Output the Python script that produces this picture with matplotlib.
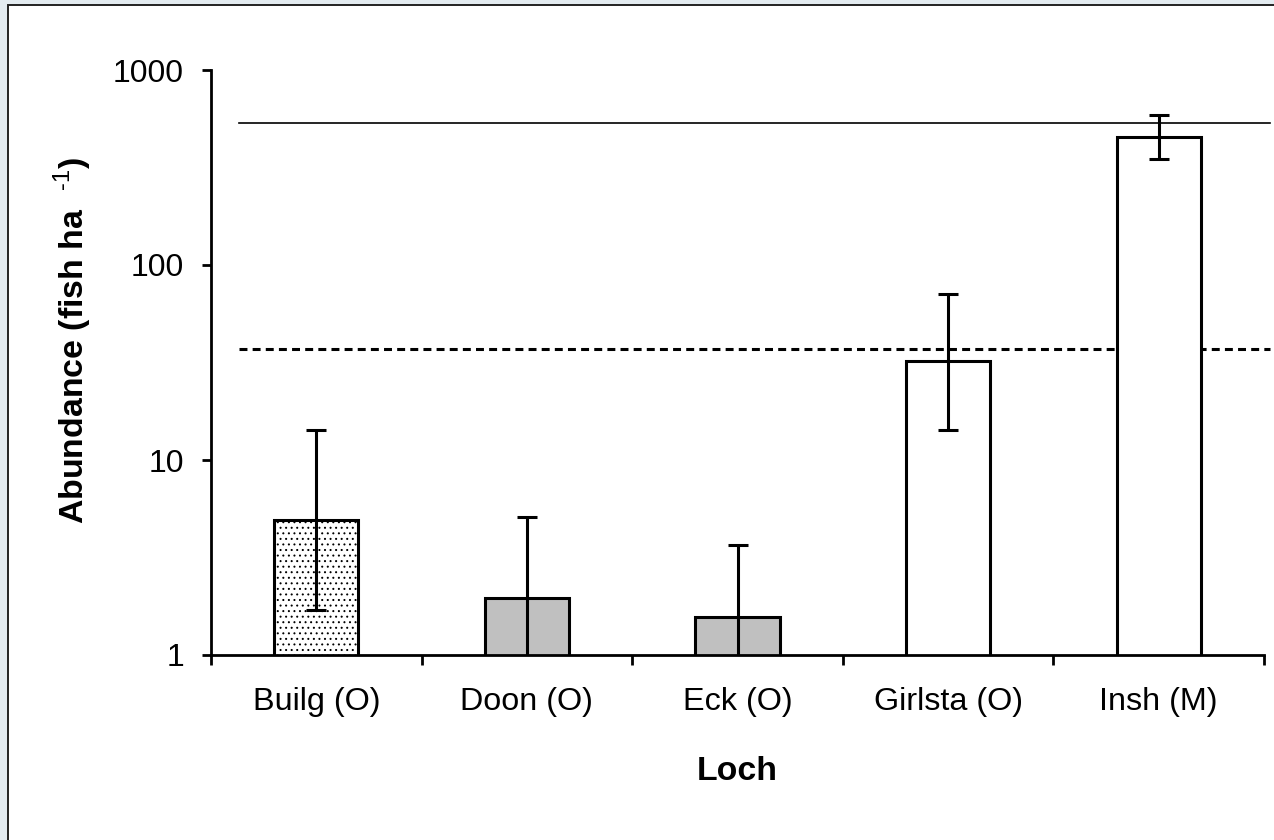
"""
Abbondanza di pesci per loch (scala logaritmica) con barre d'errore
e due linee di riferimento orizzontali.
"""

import matplotlib
matplotlib.use('Agg')
import matplotlib.pyplot as plt
from matplotlib.patches import Rectangle

# ==================== DATI ====================

lochs = ['Builg (O)', 'Doon (O)', 'Eck (O)', 'Girlsta (O)', 'Insh (M)']
abundance = [4.9, 1.97, 1.57, 32.0, 455.0]       # fish ha-1
err_low = [1.7, 0.5, 0.5, 14.2, 350.0]            # limite inferiore
err_high = [14.2, 5.1, 3.65, 71.0, 590.0]         # limite superiore
bar_colors = ['white', '#c0c0c0', '#c0c0c0', 'white', 'white']
bar_hatch = ['...', None, None, None, None]

ref_solid = 535.0    # linea continua
ref_dashed = 37.0    # linea tratteggiata

y_ticks = [1, 10, 100, 1000]

# ==================== FIGURA ====================

plt.rcParams['font.family'] = ['Liberation Sans', 'DejaVu Sans']
plt.rcParams['mathtext.fontset'] = 'custom'
plt.rcParams['mathtext.rm'] = 'Liberation Sans'
plt.rcParams['mathtext.bf'] = 'Liberation Sans:bold'
plt.rcParams['hatch.color'] = '#9a9a9a'
plt.rcParams['hatch.linewidth'] = 0.7

W, H = 1274, 840
fig = plt.figure(figsize=(W / 100, H / 100), dpi=100, facecolor='#e3ebf0')

# cornice bianca (bordo visibile solo a sinistra e in alto)
fig.patches.append(Rectangle((8 / W, -0.02), 1.05, 1 - 5 / H + 0.02,
                             transform=fig.transFigure, facecolor='white',
                             edgecolor='#222222', linewidth=1.4, zorder=-5))

ax_left, ax_right = 211, 1264
ax_top, ax_bottom = 70, 655
ax = fig.add_axes([ax_left / W, (H - ax_bottom) / H,
                   (ax_right - ax_left) / W, (ax_bottom - ax_top) / H])
ax.patch.set_alpha(0)

x = list(range(len(lochs)))
yerr = [[a - lo for a, lo in zip(abundance, err_low)],
        [hi - a for a, hi in zip(abundance, err_high)]]

bars = ax.bar(x, abundance, width=0.4, color=bar_colors, edgecolor='black',
              linewidth=2.2, zorder=2)
for b, h in zip(bars, bar_hatch):
    if h:
        b.set_hatch(h)

ax.errorbar(x, abundance, yerr=yerr, fmt='none', ecolor='black',
            elinewidth=2.2, capsize=7.5, capthick=2.2, zorder=3)

# linee di riferimento
ax.axhline(ref_solid, xmin=0.0266, xmax=1.0057, color='black',
           linewidth=1.2, clip_on=False, zorder=1)
ax.axhline(ref_dashed, xmin=0.0266, xmax=1.0057, color='black',
           linewidth=2.2, linestyle=(0, (2.6, 1.7)), clip_on=False, zorder=1)

ax.set_yscale('log')
ax.set_ylim(1, 1000)
ax.set_xlim(-0.5, 4.5)
ax.set_yticks(y_ticks)
ax.set_yticklabels([str(t) for t in y_ticks])
ax.yaxis.set_minor_locator(matplotlib.ticker.NullLocator())

ax.set_xticks(x)
ax.set_xticklabels(lochs)
ax.set_xticks([i - 0.5 for i in range(len(lochs) + 1)], minor=True)

for s in ['top', 'right']:
    ax.spines[s].set_visible(False)
for s in ['left', 'bottom']:
    ax.spines[s].set_linewidth(2.0)

ax.tick_params(axis='y', which='major', direction='out', length=6.5,
               width=2.0, pad=13, labelsize=23)
ax.tick_params(axis='x', which='major', length=0, pad=23, labelsize=23.3)
ax.tick_params(axis='x', which='minor', direction='out', length=7,
               width=2.0)

ax.set_ylabel(r'Abundance (fish ha  $^{\mathrm{\text{-}1}}$)', fontsize=24.4,
              fontweight='bold', va='center')
ax.yaxis.set_label_coords(-0.131, 0.537)
ax.set_xlabel('Loch', fontsize=24.4, fontweight='bold', va='center')
ax.xaxis.set_label_coords(0.5, -0.2)

fig.savefig('out.png', dpi=100, facecolor=fig.get_facecolor())
